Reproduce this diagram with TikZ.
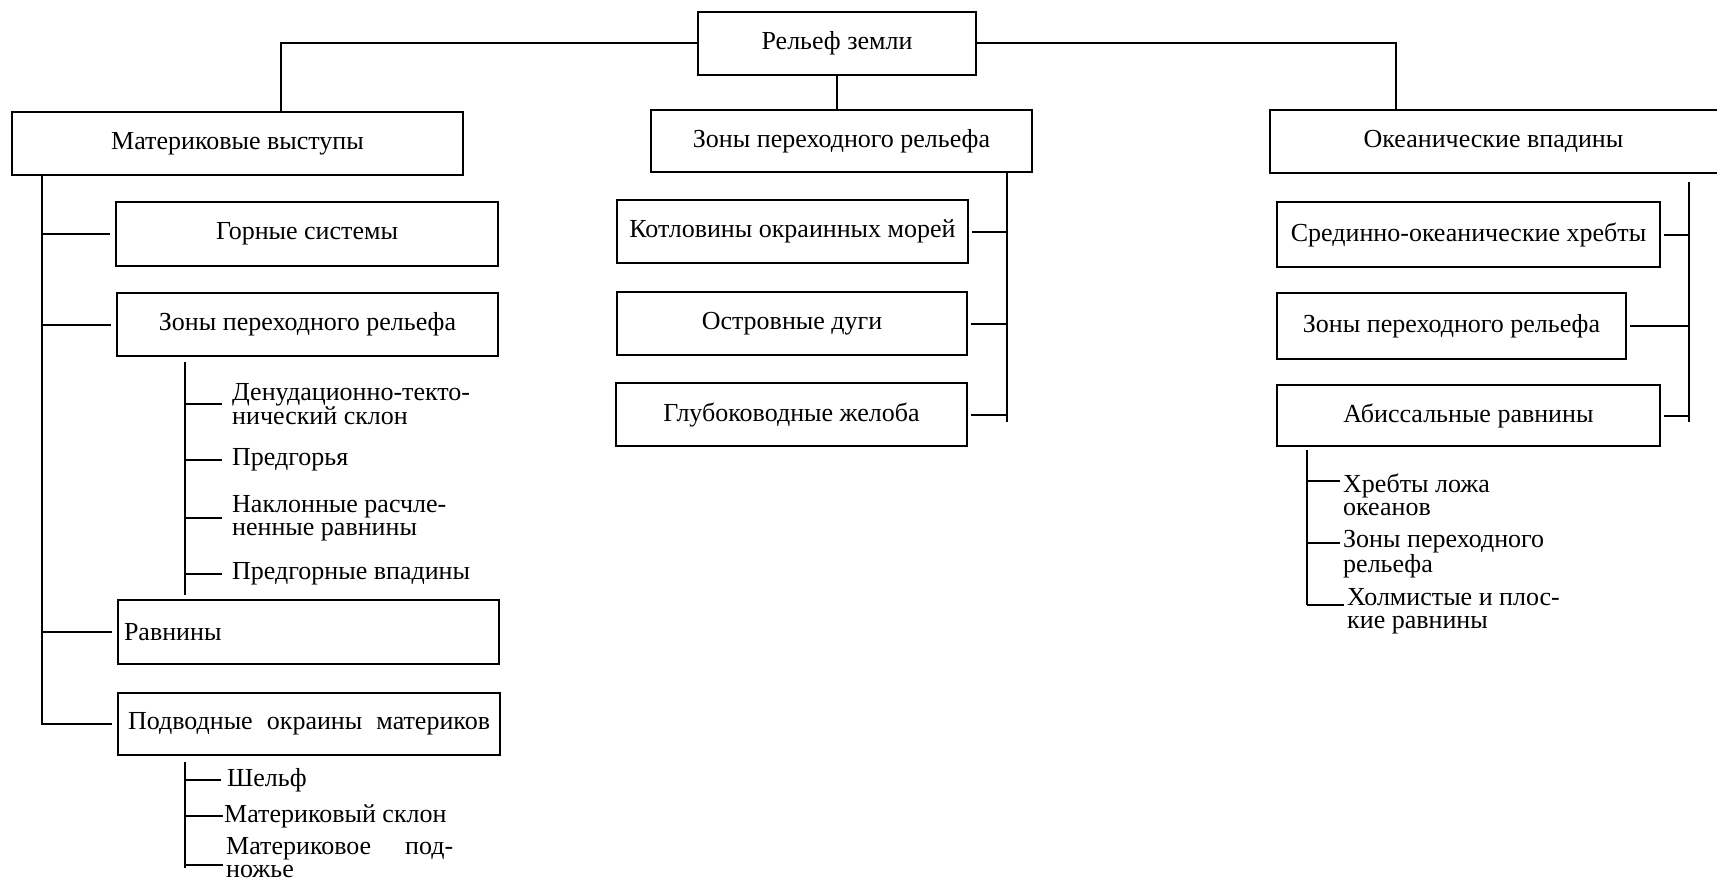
\documentclass[tikz,border=0pt]{standalone}
\usepackage{fontspec}
\setmainfont{Liberation Serif}
\begin{document}
\begin{tikzpicture}[x=1pt,y=-1pt,
  box/.style={draw, line width=2.2pt, inner sep=0pt, font=\fontsize{26}{23}\selectfont},
  lbl/.style={inner sep=0pt, anchor=west, align=left, font=\fontsize{26}{23}\selectfont},
  conn/.style={line width=2pt}]
\useasboundingbox (0,0) rectangle (1720,883);

% root
\node[box, minimum width=278pt, minimum height=63pt] (root) at (837,43.5) {Рельеф земли};

% level 1
\node[box, minimum width=451pt, minimum height=63pt] (M) at (237.5,143.5) {Материковые выступы};
\node[box, minimum width=381pt, minimum height=62pt] (Z) at (841.5,141) {Зоны переходного рельефа};
\node[inner sep=0pt, minimum width=447pt, minimum height=63pt, font=\fontsize{26}{23}\selectfont] (O) at (1493.5,141.5) {Океанические впадины};
\draw[line width=2.2pt] (O.north east) -- (O.north west) -- (O.south west) -- (O.south east);

\draw[conn] (root.west) -| ([xshift=43.5pt]M.north);
\draw[conn] (root.east) -| ([xshift=-97.5pt]O.north);
\draw[conn] (root.south) -- (root.south |- Z.north);

% left column
\node[box, minimum width=382pt, minimum height=64pt] (G) at (307,234) {Горные системы};
\node[box, minimum width=381pt, minimum height=63pt] (ZL) at (307.5,324.5) {Зоны переходного рельефа};
\node[box, minimum width=381pt, minimum height=64pt, text width=369pt, inner xsep=6pt, align=left] (R) at (308.5,632) {Равнины};
\node[box, minimum width=382pt, minimum height=62pt] (P) at (309,724) {\makebox[362pt][s]{Подводные\hfill окраины\hfill материков}};

\coordinate (mT) at (42,175);
\coordinate (mB) at (42,725);
\draw[conn] (mT) -- (mB);
\foreach \n in {G,ZL,R,P} \draw[conn] (\n.west -| mT) -- ([xshift=-5pt]\n.west);

\node[lbl] (d1) at (232,404) {Денудационно-текто-\\нический склон};
\node[lbl] (d2) at (232,460) {Предгорья};
\node[lbl] (d3) at (232,518) {Наклонные расчле-\\ненные равнины};
\node[lbl] (d4) at (232,574) {Предгорные впадины};
\coordinate (s1t) at (185,362);
\coordinate (s1b) at (185,595);
\draw[conn] (s1t) -- (s1b);
\foreach \n in {d1,d2,d3,d4} \draw[conn] (\n.west -| s1t) -- ([xshift=-10pt]\n.west);

\node[lbl] (e1) at (227,780) {Шельф};
\node[lbl] (e2) at (224,816) {Материковый склон};
\node[lbl] (e3) at (226,858) {\makebox[227pt][s]{Материковое\hfill под-}\\ножье};
\coordinate (s2t) at (185,762);
\coordinate (s2b) at (185,868);
\draw[conn] (s2t) -- (s2b);
\draw[conn] (e1.west -| s2t) -- ([xshift=-6pt]e1.west);
\draw[conn] (e2.west -| s2t) -- ([xshift=-1pt]e2.west);
\draw[conn] ([yshift=-7pt]e3.west -| s2t) -- ([xshift=-3pt,yshift=-7pt]e3.west);

% centre column
\node[box, minimum width=351pt, minimum height=63pt] (K) at (792.5,231.5) {Котловины окраинных морей};
\node[box, minimum width=350pt, minimum height=63pt] (OD) at (792,323.5) {Островные дуги};
\node[box, minimum width=351pt, minimum height=63pt] (GZ) at (791.5,414.5) {Глубоководные желоба};
\coordinate (cT) at (1007,172);
\coordinate (cB) at (1007,422);
\draw[conn] (cT) -- (cB);
\foreach \n in {K,OD,GZ} \draw[conn] ([xshift=3pt]\n.east) -- (\n.east -| cT);

% right column
\node[box, minimum width=383pt, minimum height=65pt] (SO) at (1468.5,234.5) {Срединно-океанические хребты};
\node[box, minimum width=349pt, minimum height=66pt] (ZR) at (1451.5,326) {Зоны переходного рельефа};
\node[box, minimum width=383pt, minimum height=61pt] (A) at (1468.5,415.5) {Абиссальные равнины};
\coordinate (rT) at (1689,182);
\coordinate (rB) at (1689,422);
\draw[conn] (rT) -- (rB);
\foreach \n in {SO,ZR,A} \draw[conn] ([xshift=3pt]\n.east) -- (\n.east -| rT);

\node[lbl] (h1) at (1343,495) {Хребты ложа\\океанов};
\node[lbl] (h2) at (1343,554) {Зоны переходного\\рельефа};
\node[lbl] (h3) at (1347,611) {Холмистые и плос-\\кие равнины};
\coordinate (s3t) at (1307,450);
\coordinate (s3b) at (1307,605);
\draw[conn] (s3t) -- (s3b);
\draw[conn] ([yshift=14pt]h1.west -| s3t) -- ([xshift=-3pt,yshift=14pt]h1.west);
\draw[conn] ([yshift=11pt]h2.west -| s3t) -- ([xshift=-3pt,yshift=11pt]h2.west);
\draw[conn] ([yshift=6pt]h3.west -| s3t) -- ([xshift=-3pt,yshift=6pt]h3.west);
\end{tikzpicture}
\end{document}
